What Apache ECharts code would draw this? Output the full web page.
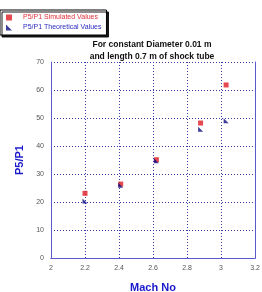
<!DOCTYPE html>
<html>
<head>
<meta charset="utf-8">
<script src="https://cdn.jsdelivr.net/npm/echarts@6/dist/echarts.min.js"></script>
<style>
  html, body { margin: 0; padding: 0; background: #fff; }
  #chart { width: 262px; height: 292px; }
</style>
</head>
<body>
<div id="chart"></div>
<script>
// values
const machSim = [2.2, 2.41, 2.62, 2.88, 3.03];
const simValues = [23.1, 26.4, 35.1, 48.2, 61.8];
const machTheo = [2.2, 2.41, 2.62, 2.88, 3.03];
const theoValues = [20.4, 26.0, 34.7, 46.0, 49.0];
const titleLines = ['For constant Diameter 0.01 m', 'and length 0.7 m of shock tube'];

const chart = echarts.init(document.getElementById('chart'));

const pair = (xs, ys) => xs.map((x, i) => [x, ys[i]]);
const triangle = 'path://M0,0 L0,10 L10,10 Z';
const gridLine = { show: true, lineStyle: { color: '#3a3aa8', type: [1, 2], width: 1 } };
const axisLine = { show: true, lineStyle: { color: '#5a5acc', width: 1 } };
const tickLabel = { color: '#555', fontSize: 7, fontFamily: 'Liberation Sans' };
const axisName = { color: '#1a1acc', fontSize: 11, fontWeight: 'bold', fontFamily: 'Liberation Sans' };

chart.setOption({
  animation: false,
  title: {
    text: titleLines.join('\n'),
    left: 147,
    textAlign: 'center',
    top: 34,
    textStyle: { fontSize: 8.5, fontWeight: 'bold', color: '#111', lineHeight: 12, fontFamily: 'Liberation Sans' }
  },
  legend: {
    orient: 'vertical',
    left: 0,
    top: 10,
    padding: [4, 5, 4, 6],
    itemGap: 3,
    itemWidth: 6,
    itemHeight: 6,
    borderColor: '#000',
    borderWidth: 1,
    backgroundColor: '#fff',
    shadowColor: 'rgba(0,0,0,0.9)',
    shadowOffsetX: 2,
    shadowOffsetY: 2,
    textStyle: { fontSize: 7, fontFamily: 'Liberation Sans', padding: [0, 0, 0, 6] },
    data: [
      { name: 'P5/P1 Simulated Values', icon: 'rect', textStyle: { color: '#e0303a' } },
      { name: 'P5/P1 Theoretical Values', icon: triangle, textStyle: { color: '#2a2ac0' } }
    ]
  },
  grid: { left: 51, right: 7, top: 62, bottom: 34, outerBoundsMode: 'none' },
  xAxis: [
    {
      type: 'value',
      min: 2,
      max: 3.2,
      interval: 0.2,
      name: 'Mach No',
      nameLocation: 'middle',
      nameGap: 24,
      nameTextStyle: axisName,
      axisLine: axisLine,
      axisTick: { show: false },
      splitLine: gridLine,
      axisLabel: { ...tickLabel, margin: 7 }
    },
    { type: 'value', position: 'top', min: 2, max: 3.2, axisLine: axisLine, axisTick: { show: false }, axisLabel: { show: false }, splitLine: { show: false } }
  ],
  yAxis: [
    {
      type: 'value',
      min: 0,
      max: 70,
      interval: 10,
      name: 'P5/P1',
      nameLocation: 'middle',
      nameGap: 26,
      nameTextStyle: axisName,
      axisLine: axisLine,
      axisTick: { show: false },
      splitLine: gridLine,
      axisLabel: { ...tickLabel, margin: 7 }
    },
    { type: 'value', position: 'right', min: 0, max: 70, axisLine: axisLine, axisTick: { show: false }, axisLabel: { show: false }, splitLine: { show: false } }
  ],
  series: [
    {
      name: 'P5/P1 Simulated Values',
      type: 'scatter',
      symbol: 'rect',
      symbolSize: 5,
      itemStyle: { color: '#dd1c24' },
      data: pair(machSim, simValues)
    },
    {
      name: 'P5/P1 Theoretical Values',
      type: 'scatter',
      symbol: triangle,
      symbolSize: 5,
      itemStyle: { color: '#0c0c80' },
      data: pair(machTheo, theoValues)
    }
  ]
});
</script>
</body>
</html>
